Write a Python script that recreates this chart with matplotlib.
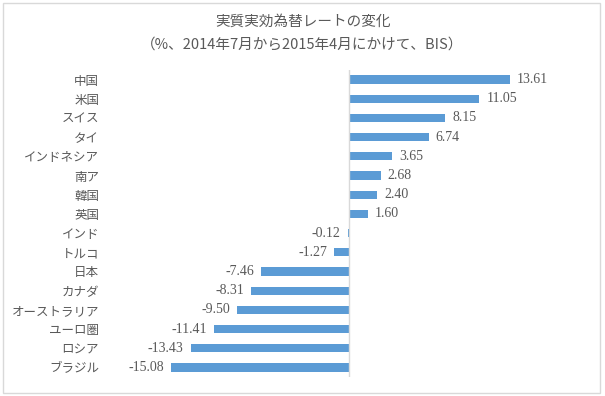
import numpy as np
import matplotlib
matplotlib.use("Agg")
import matplotlib.pyplot as plt
from matplotlib.patches import Rectangle

plt.rcParams['font.family'] = ['Noto Sans CJK JP', 'DejaVu Sans']

# data
countries = ['中国', '米国', 'スイス', 'タイ', 'インドネシア', '南ア', '韓国', '英国',
             'インド', 'トルコ', '日本', 'カナダ', 'オーストラリア', 'ユーロ圏', 'ロシア', 'ブラジル']
changes = [13.61, 11.05, 8.15, 6.74, 3.65, 2.68, 2.40, 1.60,
           -0.12, -1.27, -7.46, -8.31, -9.50, -11.41, -13.43, -15.08]

title1 = '実質実効為替レートの変化'
title2 = '（%、2014年7月から2015年4月にかけて、BIS）'

bar_color = '#5B9BD5'
text_color = '#595959'

fig = plt.figure(figsize=(6.05, 3.96), dpi=100)
ax = fig.add_axes([113/605, 19/396, 472/605, 307/396])

y = np.arange(len(countries))
ax.barh(y, changes, height=0.43, color=bar_color)
ax.set_ylim(len(countries) - 0.5, -0.5)
ax.set_xlim(-20, 20)

# axis line at zero, everything else hidden
ax.axvline(0, color='#d9d9d9', lw=1)
for s in ax.spines.values():
    s.set_visible(False)
ax.set_xticks([])
ax.set_yticks(y)
ax.set_yticklabels(countries, fontsize=9, color=text_color)
ax.tick_params(axis='y', length=0, pad=10)

# value labels
for yi, v in zip(y, changes):
    ha = 'left' if v >= 0 else 'right'
    off = 7 if v >= 0 else -7
    ax.annotate('%.2f' % v, (v, yi), xytext=(off, 0), textcoords='offset pixels',
                ha=ha, va='center', fontsize=10, color=text_color,
                family=['Liberation Serif'])

fig.text(0.5, 1 - 22/396, title1, ha='center', va='center', fontsize=10.5, color=text_color)
fig.text(0.5, 1 - 45/396, title2, ha='center', va='center', fontsize=10.5, color=text_color)

# chart border
fig.patches.append(Rectangle((3/605, 3/396), 597/605, 390/396, transform=fig.transFigure,
                             fill=False, edgecolor='#d9d9d9', lw=1))

fig.savefig('out.png', dpi=100)
